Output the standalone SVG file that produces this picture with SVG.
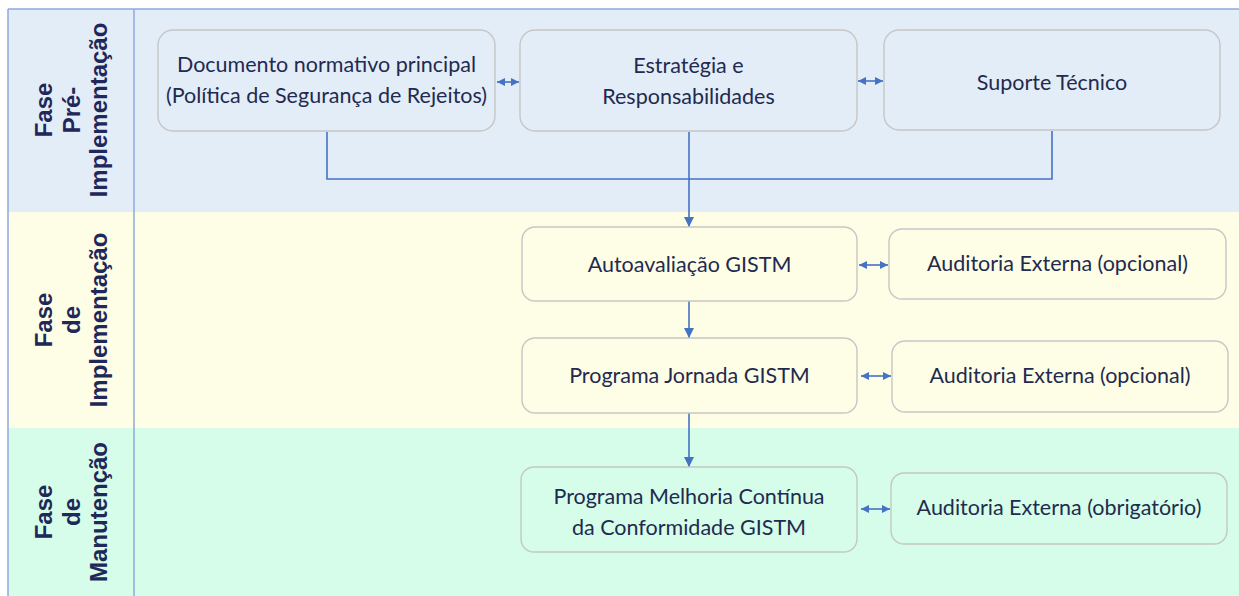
<svg xmlns="http://www.w3.org/2000/svg" width="1239" height="596" viewBox="0 0 1239 596">
<style>
.lane-pre{fill:#e3edf8}
.lane-imp{fill:#fefee6}
.lane-man{fill:#d5fde9}
.border{stroke:#8eaadb;stroke-width:1.5;fill:none}
.box{stroke:#c6c6c6;stroke-width:1.4}
.t{font-family:Lato,"Liberation Sans",sans-serif;font-size:21.5px;fill:#222a4f;text-anchor:middle}
.lt{font-family:"Liberation Sans",Arial,sans-serif;font-weight:bold;font-size:24px;fill:#1f2858;text-anchor:middle}
.c{stroke:#4472c4;stroke-width:1.6;fill:none}
</style>
<defs>
<marker id="ah" markerUnits="userSpaceOnUse" markerWidth="10" markerHeight="10" viewBox="0 0 10 10" refX="10" refY="5" orient="auto-start-reverse">
<path d="M0,0 L10,5 L0,10 z" fill="#4472c4"/>
</marker>
<marker id="sh" markerUnits="userSpaceOnUse" markerWidth="8" markerHeight="8" viewBox="0 0 10 10" refX="10" refY="5" orient="auto-start-reverse">
<path d="M0,0 L10,5 L0,10 z" fill="#4472c4"/>
</marker>
</defs>

<g id="lanes">
<rect class="lane-pre" x="8" y="9" width="1231" height="203"/>
<rect class="lane-imp" x="8" y="212" width="1231" height="216"/>
<rect class="lane-man" x="8" y="428" width="1231" height="168"/>
<line class="border" x1="8" y1="9" x2="1239" y2="9"/>
<line class="border" x1="8" y1="9" x2="8" y2="596"/>
<line class="border" x1="134" y1="9" x2="134" y2="596"/>
</g>

<g id="lane-labels">
<text class="lt" transform="translate(0,110) rotate(-90)"><tspan x="0" y="52">Fase</tspan><tspan x="0" y="80">Pré-</tspan><tspan x="0" y="107">Implementação</tspan></text>
<text class="lt" transform="translate(0,320) rotate(-90)"><tspan x="0" y="52">Fase</tspan><tspan x="0" y="80">de</tspan><tspan x="0" y="107">Implementação</tspan></text>
<text class="lt" transform="translate(0,512) rotate(-90)"><tspan x="0" y="52">Fase</tspan><tspan x="0" y="80">de</tspan><tspan x="0" y="107">Manutenção</tspan></text>
</g>

<g id="connectors">
<path class="c" d="M327,132 V179 H1052 V131"/>
<path class="c" d="M689,132 V227" marker-end="url(#ah)"/>
<path class="c" d="M689,301 V338" marker-end="url(#ah)"/>
<path class="c" d="M689,413 V467" marker-end="url(#ah)"/>
<path class="c" d="M497,82 H519" marker-start="url(#sh)" marker-end="url(#sh)"/>
<path class="c" d="M858,81 H883" marker-start="url(#sh)" marker-end="url(#sh)"/>
<path class="c" d="M859,265 H888" marker-start="url(#sh)" marker-end="url(#sh)"/>
<path class="c" d="M861,376 H891" marker-start="url(#sh)" marker-end="url(#sh)"/>
<path class="c" d="M861,509 H890" marker-start="url(#sh)" marker-end="url(#sh)"/>
</g>

<g id="doc">
<rect class="box lane-pre" x="158" y="30" width="337" height="101" rx="15"/>
<text class="t"><tspan x="326.5" y="72">Documento normativo principal</tspan><tspan x="326.5" y="103">(Política de Segurança de Rejeitos)</tspan></text>
</g>
<g id="estrategia">
<rect class="box lane-pre" x="520" y="30" width="337" height="101" rx="15"/>
<text class="t"><tspan x="688.5" y="73">Estratégia e</tspan><tspan x="688.5" y="104">Responsabilidades</tspan></text>
</g>
<g id="suporte">
<rect class="box lane-pre" x="884" y="30" width="336" height="100" rx="15"/>
<text class="t" x="1052" y="90">Suporte Técnico</text>
</g>

<g id="autoavaliacao">
<rect class="box lane-imp" x="522" y="227" width="335" height="74" rx="13"/>
<text class="t" x="689.5" y="272">Autoavaliação GISTM</text>
</g>
<g id="auditoria1">
<rect class="box lane-imp" x="889" y="229" width="337" height="70" rx="13"/>
<text class="t" x="1057.5" y="271">Auditoria Externa (opcional)</text>
</g>
<g id="jornada">
<rect class="box lane-imp" x="522" y="338" width="335" height="75" rx="13"/>
<text class="t" x="689.5" y="383">Programa Jornada GISTM</text>
</g>
<g id="auditoria2">
<rect class="box lane-imp" x="892" y="341" width="336" height="71" rx="13"/>
<text class="t" x="1060" y="383">Auditoria Externa (opcional)</text>
</g>

<g id="melhoria">
<rect class="box lane-man" x="521" y="467" width="336" height="85" rx="13"/>
<text class="t"><tspan x="689" y="504">Programa Melhoria Contínua</tspan><tspan x="689" y="535">da Conformidade GISTM</tspan></text>
</g>
<g id="auditoria3">
<rect class="box lane-man" x="891" y="473" width="336" height="71" rx="13"/>
<text class="t" x="1059" y="515">Auditoria Externa (obrigatório)</text>
</g>
</svg>
